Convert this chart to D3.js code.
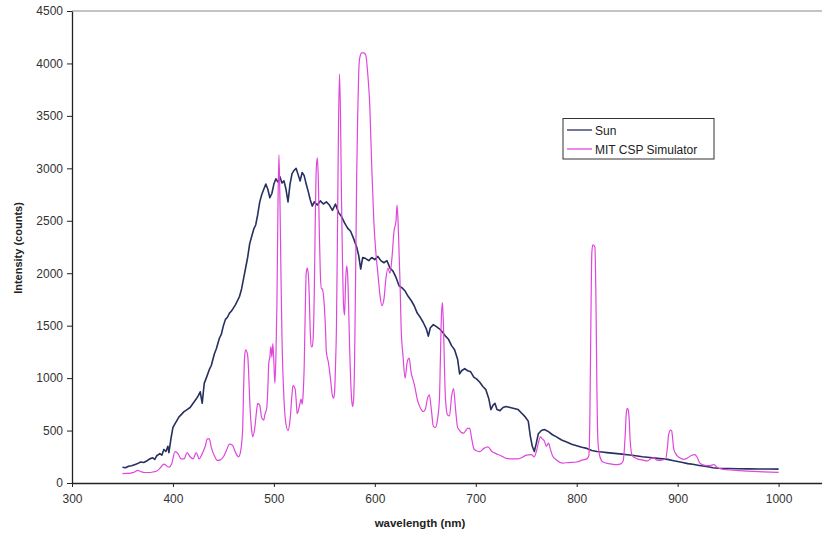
<!DOCTYPE html>
<html><head><meta charset="utf-8">
<script src="https://cdn.jsdelivr.net/npm/d3@7"></script>
<style>body{margin:0;background:#fff;}svg{display:block;font-family:"Liberation Sans",Arial,sans-serif;}</style>
</head><body><svg id="c" width="822" height="535"></svg>
<script>
const xTicks=[300,400,500,600,700,800,900,1000];
const yTicks=[0,500,1000,1500,2000,2500,3000,3500,4000,4500];
const seriesNames=["Sun","MIT CSP Simulator"];
const sunWl=[350,353,356,359,362,365,368,371,374,377,380,382,384,387,389,391,393,395,396,398,400,403,406,408,411,414,417,420,423,425,427,429,431,433,436,438,441,443,446,448,450,452,454,456,458,460,462,464,466,468,470,472,474,476,478,480,482,484,486,488,490,492,494,496,498,500,502,504,506,508,510,512,514,516,518,520,522,524,526,528,530,532,534,536,538,540,543,546,549,552,555,558,561,564,567,570,573,576,579,582,584,586,588,591,594,597,600,603,606,609,612,615,618,621,624,627,630,633,636,639,642,645,648,651,653,655,658,661,664,667,670,673,676,679,682,684,686,689,692,695,698,701,704,707,710,713,715,717,719,721,724,727,730,734,738,742,746,749,752,754,756,758,760,762,765,768,772,776,780,785,790,795,800,805,810,815,820,825,830,835,840,845,850,855,860,865,870,875,880,885,890,895,900,905,910,915,920,925,930,935,940,950,960,970,980,990,1000];
const sunVal=[150,145,160,165,175,185,200,195,210,230,240,225,260,280,265,320,300,350,290,420,530,580,630,650,680,700,720,760,800,830,870,760,950,1000,1080,1120,1230,1280,1380,1420,1500,1560,1580,1620,1640,1670,1700,1740,1780,1850,1950,2050,2150,2280,2350,2420,2460,2560,2680,2750,2800,2850,2800,2720,2760,2850,2900,2870,2920,2860,2880,2800,2680,2850,2950,2980,3000,2940,2880,2960,2930,2850,2780,2700,2640,2680,2650,2690,2660,2680,2650,2600,2660,2580,2540,2480,2430,2400,2330,2250,2170,2040,2150,2140,2120,2150,2130,2160,2120,2100,2120,2050,2020,1960,1880,1860,1830,1780,1740,1690,1620,1580,1530,1470,1400,1480,1510,1490,1470,1440,1400,1370,1310,1270,1180,1040,1070,1090,1070,1060,1010,990,960,920,890,800,700,740,760,700,690,720,730,720,710,700,660,630,590,450,350,300,380,470,500,510,490,460,440,410,390,370,355,340,330,310,300,295,290,285,280,275,270,265,258,250,245,240,235,230,225,215,205,195,185,178,170,162,155,145,140,138,136,135,134,133,132];
const simWl=[350,354,358,362,365,368,372,376,380,384,388,391,393,396,399,402,405,408,411,414,417,420,423,426,429,432,434,436,438,441,444,447,450,453,456,459,462,465,467,469,470,471,472,474,475,476,478,479,481,483,484,486,488,490,491,493,494,495,496,497,498,499,500,501,502,503,504,505,506,507,508,510,512,514,516,518,519,521,522,523,525,527,528,529,530,531,532,533,534,535,536,537,538,539,540,541,542,543,544,545,546,547,548,549,551,552,554,556,558,559,560,561,562,563,564,565,566,567,568,569,570,571,572,573,574,575,576,577,578,579,580,581,582,583,584,585,587,589,591,593,595,597,599,601,603,605,607,609,611,613,615,617,619,621,622,623,624,625,626,628,630,632,634,636,638,640,642,644,646,648,650,652,654,656,658,660,662,664,665,666,667,668,669,670,672,674,676,678,680,682,684,686,688,690,692,694,696,698,700,704,708,712,716,720,725,730,736,742,747,750,755,758,760,762,764,766,768,770,772,774,776,780,786,792,800,806,810,812,813,814,815,816,818,819,820,821,823,826,832,838,843,846,848,849,850,851,852,853,855,860,865,870,873,876,880,885,888,890,891,893,894,895,896,898,902,906,910,914,917,919,922,926,930,934,936,939,945,955,965,975,985,1000];
const simVal=[90,92,95,105,120,110,100,100,105,115,150,180,170,150,190,300,280,230,230,290,250,230,290,230,280,350,420,420,340,260,215,220,250,310,370,360,290,250,300,500,900,1200,1270,1220,1050,800,500,440,520,700,760,740,620,600,650,720,900,1150,1200,1300,1200,1330,1150,950,1200,1700,2600,3130,2700,2000,1400,800,560,500,600,850,930,900,800,660,720,800,750,850,1100,1600,2000,2050,2000,1800,1450,1300,1300,1400,1800,2500,3000,3100,2900,2400,2000,1850,1850,1800,1500,1250,1150,1000,830,810,850,1100,1500,2400,3400,3900,3500,2700,2100,1700,1600,1900,2070,2000,1700,1300,1000,800,730,800,1200,2000,2900,3500,3900,4050,4100,4100,4080,3900,3600,3000,2500,2200,2000,1800,1690,1750,1950,2050,2000,2150,2400,2500,2650,2500,2200,1900,1500,1200,1000,1150,1190,1050,980,900,800,740,700,680,700,800,840,700,540,530,600,800,1200,1600,1720,1500,1100,800,650,640,820,900,700,530,500,480,475,500,520,520,420,330,310,300,330,345,300,280,260,235,230,230,250,265,270,250,300,380,440,420,400,350,380,320,260,220,190,195,200,220,230,260,600,1500,2200,2270,2250,1800,900,400,250,200,185,175,180,210,450,650,712,700,600,400,260,230,220,210,230,240,215,220,230,350,460,505,500,430,330,280,240,225,240,265,270,250,190,170,165,170,175,150,130,122,115,110,106,102];

const svg=d3.select("#c");
const x=d3.scaleLinear().domain([300,1043]).range([72,822]);
const y=d3.scaleLinear().domain([0,4500]).range([483,11]);
const ink="#333";

// top border line
svg.append("line").attr("x1",x(300)).attr("x2",822).attr("y1",y(4500)).attr("y2",y(4500))
  .attr("stroke","#8a8a8a").attr("stroke-width",1.2);

const xa=svg.append("g").attr("transform","translate(0,483)")
  .call(d3.axisBottom(x).tickValues(xTicks).tickSize(4).tickSizeOuter(0).tickFormat(d3.format("d")));
const ya=svg.append("g").attr("transform","translate(72,0)")
  .call(d3.axisLeft(y).tickValues(yTicks).tickSize(5).tickSizeOuter(0).tickFormat(d3.format("d")));
[xa,ya].forEach(g=>{
  g.select(".domain").attr("stroke","#222").attr("stroke-width",1.3);
  g.selectAll(".tick line").attr("stroke","#222");
  g.selectAll("text").attr("font-family","Liberation Sans, Arial, sans-serif").attr("font-size",12).attr("fill",ink);
});
xa.selectAll("text").attr("dy","1.05em");
ya.selectAll("text").attr("x",-9);

const line=d3.line().x(d=>x(d[0])).y(d=>y(d[1]));
const sun=sunWl.map((w,i)=>[w,sunVal[i]]);
const sim=simWl.map((w,i)=>[w,simVal[i]]);
svg.append("path").datum(sun).attr("d",line).attr("fill","none").attr("stroke","#27305f").attr("stroke-width",1.6).attr("stroke-linejoin","round");
svg.append("path").datum(sim).attr("d",d3.line().x(d=>x(d[0])).y(d=>y(d[1])).curve(d3.curveMonotoneX)).attr("fill","none").attr("stroke","#e046dc").attr("stroke-width",1.2).attr("stroke-linejoin","round");

// axis titles
svg.append("text").attr("x",420).attr("y",527).attr("text-anchor","middle")
  .attr("font-size",11.5).attr("font-weight","bold").attr("fill","#222").text("wavelength (nm)");
svg.append("text").attr("transform","translate(22,248) rotate(-90)").attr("text-anchor","middle")
  .attr("font-size",11).attr("font-weight","bold").attr("fill","#222").text("Intensity (counts)");

// legend
const lg=svg.append("g");
lg.append("rect").attr("x",563).attr("y",118.5).attr("width",151).attr("height",40.5)
  .attr("fill","#fff").attr("stroke","#333").attr("stroke-width",1);
const colors=["#27305f","#e046dc"];
seriesNames.forEach((n,i)=>{
  const yy=130+i*19;
  lg.append("line").attr("x1",567).attr("x2",592).attr("y1",yy).attr("y2",yy).attr("stroke",colors[i]).attr("stroke-width",1.3);
  lg.append("text").attr("x",595).attr("y",yy+4.5).attr("font-size",12).attr("fill","#222").text(n);
});
</script></body></html>
